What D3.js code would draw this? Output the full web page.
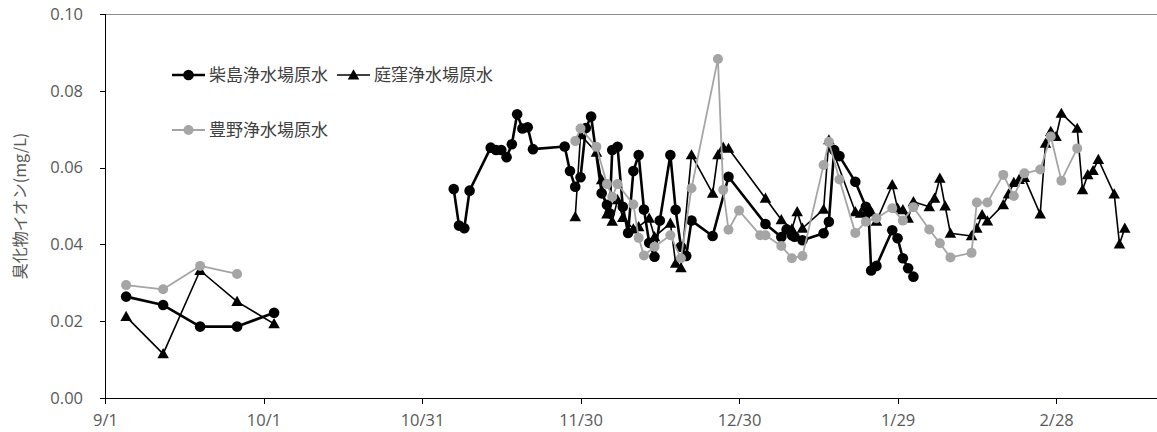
<!DOCTYPE html>
<html>
<head>
<meta charset="utf-8">
<script src="https://cdn.jsdelivr.net/npm/d3@7/dist/d3.min.js"></script>
<style>
  html, body { margin: 0; padding: 0; background: #fff; }
  svg { display: block; }
</style>
</head>
<body>
<svg id="chart" width="1157" height="432"></svg>
<script>
// Bromide ion (mg/L) in raw water at three purification plants

const seriesNames = ["柴島浄水場原水", "庭窪浄水場原水", "豊野浄水場原水"];

const xTickLabels = ["9/1", "10/1", "10/31", "11/30", "12/30", "1/29", "2/28"];
const yTickValues = [0, 0.02, 0.04, 0.06, 0.08, 0.10];

// 柴島浄水場原水
const shibajimaDates = [
  "2018-09-05","2018-09-12","2018-09-19","2018-09-26","2018-10-03",
  "2018-11-06","2018-11-07","2018-11-08","2018-11-09","2018-11-13","2018-11-14","2018-11-15",
  "2018-11-16","2018-11-17","2018-11-18","2018-11-19","2018-11-20","2018-11-21",
  "2018-11-27","2018-11-28","2018-11-29","2018-11-30","2018-12-01","2018-12-02",
  "2018-12-04","2018-12-05","2018-12-05 12:00","2018-12-06","2018-12-07","2018-12-08",
  "2018-12-09","2018-12-10","2018-12-11","2018-12-12","2018-12-13","2018-12-14",
  "2018-12-15","2018-12-17","2018-12-18","2018-12-19","2018-12-20","2018-12-21",
  "2018-12-25","2018-12-28","2019-01-04","2019-01-07","2019-01-08","2019-01-09",
  "2019-01-09 12:00","2019-01-11","2019-01-15","2019-01-16","2019-01-17","2019-01-18",
  "2019-01-21","2019-01-23","2019-01-23 12:00","2019-01-24","2019-01-25","2019-01-28",
  "2019-01-29","2019-01-30","2019-01-31","2019-02-01"
];
const shibajimaValues = [
  0.0264,0.0242,0.0186,0.0186,0.0222,
  0.0544,0.0449,0.0442,0.0540,0.0652,0.0646,0.0646,
  0.0627,0.0661,0.0739,0.0702,0.0705,0.0648,
  0.0655,0.0591,0.0550,0.0575,0.0703,0.0733,
  0.0533,0.0503,0.0481,0.0646,0.0654,0.0498,
  0.0430,0.0591,0.0633,0.0491,0.0404,0.0368,
  0.0462,0.0633,0.0490,0.0394,0.0370,0.0462,
  0.0422,0.0576,0.0453,0.0419,0.0439,0.0424,
  0.0420,0.0411,0.0429,0.0459,0.0646,0.0630,
  0.0563,0.0498,0.0485,0.0332,0.0344,0.0437,
  0.0416,0.0364,0.0338,0.0316
];

// 庭窪浄水場原水
const niwakuboDates = [
  "2018-09-05","2018-09-12","2018-09-19","2018-09-26","2018-10-03",
  "2018-11-29","2018-11-30","2018-12-03","2018-12-04","2018-12-05","2018-12-06",
  "2018-12-07","2018-12-08","2018-12-10","2018-12-11","2018-12-13","2018-12-14",
  "2018-12-17","2018-12-18","2018-12-19","2018-12-21","2018-12-25","2018-12-26",
  "2018-12-27","2018-12-28","2019-01-04","2019-01-07","2019-01-09","2019-01-10",
  "2019-01-11","2019-01-15","2019-01-16","2019-01-21","2019-01-22","2019-01-24",
  "2019-01-25","2019-01-28","2019-01-29","2019-01-30","2019-01-31","2019-02-01",
  "2019-02-04","2019-02-05","2019-02-06","2019-02-07","2019-02-08","2019-02-12",
  "2019-02-13","2019-02-14","2019-02-15","2019-02-18","2019-02-19","2019-02-20",
  "2019-02-21","2019-02-22","2019-02-25","2019-02-26","2019-02-27","2019-02-28",
  "2019-03-01","2019-03-04","2019-03-05","2019-03-06","2019-03-07","2019-03-08",
  "2019-03-11","2019-03-12","2019-03-13"
];
const niwakuboValues = [
  0.0212,0.0115,0.0332,0.0251,0.0193,
  0.0472,0.0685,0.0640,0.0568,0.0479,0.0460,
  0.0516,0.0470,0.0440,0.0446,0.0468,0.0420,
  0.0455,0.0351,0.0339,0.0633,0.0533,0.0633,
  0.0653,0.0650,0.0520,0.0464,0.0440,0.0485,
  0.0442,0.0491,0.0672,0.0485,0.0481,0.0485,
  0.0460,0.0555,0.0494,0.0490,0.0468,0.0511,
  0.0498,0.0520,0.0572,0.0500,0.0429,0.0422,
  0.0442,0.0477,0.0461,0.0503,0.0531,0.0561,
  0.0569,0.0574,0.0479,0.0663,0.0694,0.0681,
  0.0741,0.0702,0.0542,0.0581,0.0592,0.0621,
  0.0531,0.0401,0.0442
];

// 豊野浄水場原水
const toyonoDates = [
  "2018-09-05","2018-09-12","2018-09-19","2018-09-26",
  "2018-11-29","2018-11-30","2018-12-03","2018-12-05","2018-12-06","2018-12-07",
  "2018-12-10","2018-12-11","2018-12-12","2018-12-14","2018-12-17","2018-12-19",
  "2018-12-21","2018-12-26","2018-12-27","2018-12-28","2018-12-30","2019-01-03",
  "2019-01-04","2019-01-07","2019-01-09","2019-01-11","2019-01-15","2019-01-16",
  "2019-01-18","2019-01-21","2019-01-23","2019-01-25","2019-01-28","2019-01-30",
  "2019-02-01","2019-02-04","2019-02-06","2019-02-08","2019-02-12","2019-02-13",
  "2019-02-15","2019-02-18","2019-02-20","2019-02-22","2019-02-25","2019-02-27",
  "2019-03-01","2019-03-04"
];
const toyonoValues = [
  0.0294,0.0283,0.0344,0.0323,
  0.0669,0.0702,0.0654,0.0557,0.0524,0.0557,
  0.0504,0.0417,0.0371,0.0394,0.0424,0.0364,
  0.0546,0.0883,0.0542,0.0438,0.0488,0.0424,
  0.0424,0.0396,0.0364,0.0370,0.0607,0.0667,
  0.0569,0.0430,0.0459,0.0468,0.0494,0.0462,
  0.0497,0.0439,0.0403,0.0366,0.0378,0.0509,
  0.0509,0.0581,0.0526,0.0585,0.0595,0.0681,
  0.0566,0.0650
];

const parseA = d3.utcParse("%Y-%m-%d %H:%M");
const parseB = d3.utcParse("%Y-%m-%d");
const parseDate = s => parseA(s) || parseB(s);

const DAY = 864e5;
const xStart = parseB("2018-09-01");
const xEnd = new Date(xStart.getTime() + 199.1 * DAY);

const svg = d3.select("#chart");
const plotLeft = 105, plotRight = 1157, plotTop = 14, plotBottom = 398;

const x = d3.scaleUtc().domain([xStart, xEnd]).range([plotLeft, plotRight]);
const y = d3.scaleLinear().domain([0, 0.10]).range([plotBottom, plotTop]);

const tickFont = "'Open Sans', 'Liberation Sans', sans-serif";
const cjkFont = "'Noto Sans CJK JP', sans-serif";

// top border line at 0.10
svg.append("line")
  .attr("x1", plotLeft).attr("x2", plotRight)
  .attr("y1", y(0.10)).attr("y2", y(0.10))
  .attr("stroke", "#8c8c8c").attr("stroke-width", 1)
  .attr("shape-rendering", "crispEdges");

// y axis
const yAxis = svg.append("g")
  .attr("transform", `translate(${plotLeft},0)`)
  .call(d3.axisLeft(y).tickValues(yTickValues).tickFormat(d3.format(".2f"))
    .tickSizeOuter(0).tickSize(5).tickPadding(17));
yAxis.select(".domain").attr("stroke", "#000").attr("shape-rendering", "crispEdges");
yAxis.selectAll(".tick line").attr("stroke", "#000").attr("shape-rendering", "crispEdges");
yAxis.selectAll("text").attr("fill", "#595959").style("font-family", tickFont).style("font-size", "16.5px");

// x axis, ticks every 30 days from 9/1
const xTickDates = xTickLabels.map((_, i) => new Date(xStart.getTime() + i * 30 * DAY));
const xAxis = svg.append("g")
  .attr("transform", `translate(0,${plotBottom})`)
  .call(d3.axisBottom(x).tickValues(xTickDates).tickFormat((d, i) => xTickLabels[i])
    .tickSizeOuter(0).tickSize(6));
xAxis.select(".domain").attr("stroke", "#000").attr("shape-rendering", "crispEdges");
xAxis.selectAll(".tick line").attr("stroke", "#000").attr("shape-rendering", "crispEdges");
xAxis.selectAll("text").attr("fill", "#595959").attr("y", 28).attr("dy", 0)
  .style("font-family", tickFont).style("font-size", "16.5px");

// y axis title
svg.append("text")
  .attr("transform", `translate(20,${(plotTop + plotBottom) / 2}) rotate(-90)`)
  .attr("text-anchor", "middle")
  .attr("dy", "0.35em")
  .attr("fill", "#595959")
  .style("font-family", cjkFont).style("font-size", "16px")
  .text("臭化物イオン(mg/L)");

// markers
const trianglePath = (s) => `M0,${-s * 0.55}L${s * 0.55},${s * 0.42}L${-s * 0.55},${s * 0.42}Z`;

const series = [
  { name: seriesNames[0], dates: shibajimaDates, values: shibajimaValues, color: "#000", width: 2.6, marker: "circle", r: 5.3 },
  { name: seriesNames[1], dates: niwakuboDates, values: niwakuboValues, color: "#000", width: 1.6, marker: "triangle", r: 10.5 },
  { name: seriesNames[2], dates: toyonoDates, values: toyonoValues, color: "#a5a5a5", width: 1.8, marker: "circle", r: 5 }
];

// each gap longer than 20 days is drawn as a break in the line
function segments(pts) {
  const segs = [[]];
  pts.forEach((p, i) => {
    if (i > 0 && (p.date - pts[i - 1].date) > 20 * DAY) segs.push([]);
    segs[segs.length - 1].push(p);
  });
  return segs;
}

const line = d3.line().x(d => x(d.date)).y(d => y(d.value));

series.forEach(s => {
  const pts = s.dates.map((d, i) => ({ date: parseDate(d), value: s.values[i] }));
  const g = svg.append("g");
  segments(pts).forEach(seg => {
    g.append("path").datum(seg)
      .attr("d", line)
      .attr("fill", "none")
      .attr("stroke", s.color)
      .attr("stroke-width", s.width)
      .attr("stroke-linejoin", "round");
  });
  if (s.marker === "circle") {
    g.selectAll("circle").data(pts).join("circle")
      .attr("cx", d => x(d.date)).attr("cy", d => y(d.value))
      .attr("r", s.r).attr("fill", s.color);
  } else {
    g.selectAll("path.mk").data(pts).join("path").attr("class", "mk")
      .attr("transform", d => `translate(${x(d.date)},${y(d.value)})`)
      .attr("d", trianglePath(s.r)).attr("fill", s.color);
  }
});

// legend
const legendItems = [
  { s: series[0], lx: 172, ly: 75 },
  { s: series[1], lx: 337, ly: 75 },
  { s: series[2], lx: 172, ly: 130 }
];
const lg = svg.append("g");
legendItems.forEach(({ s, lx, ly }) => {
  lg.append("line")
    .attr("x1", lx).attr("x2", lx + 33).attr("y1", ly).attr("y2", ly)
    .attr("stroke", s.color).attr("stroke-width", s.width);
  if (s.marker === "circle") {
    lg.append("circle").attr("cx", lx + 16.5).attr("cy", ly).attr("r", s.r).attr("fill", s.color);
  } else {
    lg.append("path").attr("transform", `translate(${lx + 16.5},${ly})`)
      .attr("d", trianglePath(s.r)).attr("fill", s.color);
  }
  lg.append("text")
    .attr("x", lx + 37).attr("y", ly).attr("dy", "0.35em")
    .attr("fill", "#404040")
    .style("font-family", cjkFont).style("font-size", "17px")
    .text(s.name);
});
</script>
</body>
</html>
